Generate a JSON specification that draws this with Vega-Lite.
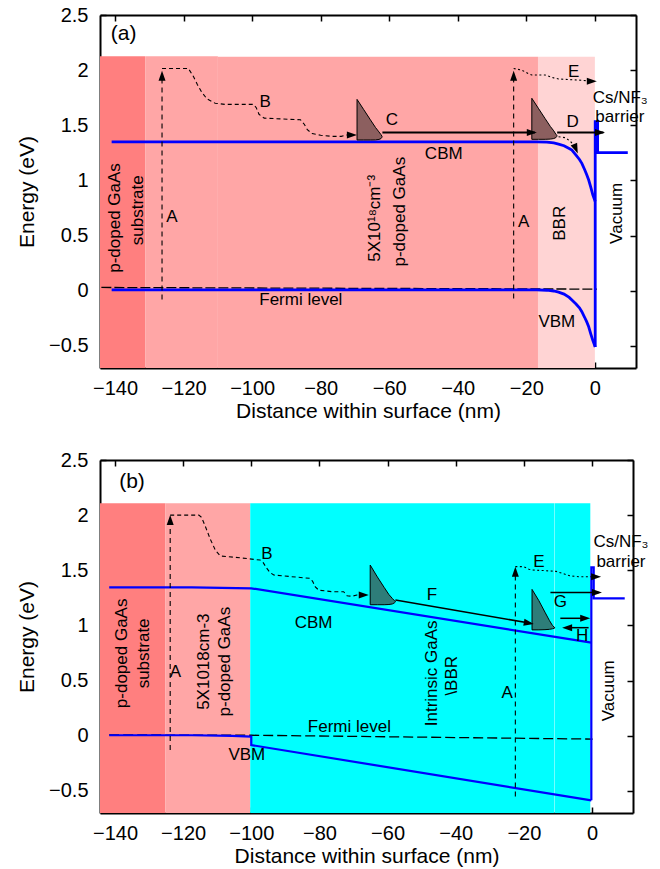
{
  "$schema": "https://vega.github.io/schema/vega-lite/v6.json",
  "padding": {"left": 16, "top": 5, "right": 5, "bottom": 5},
  "spacing": 92,
  "bounds": "flush",
  "resolve": {"scale": {"x": "independent", "y": "independent"}},
  "config": {
    "font": "Liberation Sans",
    "view": {"stroke": null},
    "axis": {
      "labelFont": "Liberation Sans", "titleFont": "Liberation Sans",
      "labelFontSize": 20, "titleFontSize": 21, "titleFontWeight": "normal",
      "labelColor": "black", "titleColor": "black", "domainColor": "black", "tickColor": "black",
      "domainWidth": 2, "tickWidth": 1.5, "tickSize": -6, "grid": false, "zindex": 1,
      "labelFlush": false, "labelOverlap": false
    }
  },
  "datasets": {
    "a_bg": [
      {"region": "substrate", "x": -144.4, "x2": -131.1, "y": -0.7, "y2": 2.127},
      {"region": "doped", "x": -131.0, "x2": -110, "y": -0.7, "y2": 2.127},
      {"region": "doped", "x": -110, "x2": -16.6, "y": -0.7, "y2": 2.122},
      {"region": "BBR", "x": -16.6, "x2": 0, "y": -0.7, "y2": 2.122}
    ],
    "a_bands": [
      {"band": "CBM", "i": 0, "x": -141, "y": 1.35},
      {"band": "CBM", "i": 1, "x": -17, "y": 1.35},
      {"band": "CBM", "i": 2, "x": -14, "y": 1.347},
      {"band": "CBM", "i": 3, "x": -12, "y": 1.34},
      {"band": "CBM", "i": 4, "x": -10.6, "y": 1.33},
      {"band": "CBM", "i": 5, "x": -9, "y": 1.315},
      {"band": "CBM", "i": 6, "x": -7.5, "y": 1.29},
      {"band": "CBM", "i": 7, "x": -6.7, "y": 1.276},
      {"band": "CBM", "i": 8, "x": -5.5, "y": 1.23},
      {"band": "CBM", "i": 9, "x": -4.5, "y": 1.19},
      {"band": "CBM", "i": 10, "x": -3.8, "y": 1.155},
      {"band": "CBM", "i": 11, "x": -3, "y": 1.1},
      {"band": "CBM", "i": 12, "x": -2.4, "y": 1.055},
      {"band": "CBM", "i": 13, "x": -1.8, "y": 1.004},
      {"band": "CBM", "i": 14, "x": -1.2, "y": 0.94},
      {"band": "CBM", "i": 15, "x": -0.6, "y": 0.87},
      {"band": "CBM", "i": 16, "x": 0.1, "y": 0.81},
      {"band": "VBM", "i": 0, "x": -141, "y": 0.008},
      {"band": "VBM", "i": 1, "x": -17, "y": 0.008},
      {"band": "VBM", "i": 2, "x": -14, "y": 0.005},
      {"band": "VBM", "i": 3, "x": -12, "y": -0.002},
      {"band": "VBM", "i": 4, "x": -10.6, "y": -0.012},
      {"band": "VBM", "i": 5, "x": -9, "y": -0.03},
      {"band": "VBM", "i": 6, "x": -7.5, "y": -0.06},
      {"band": "VBM", "i": 7, "x": -6.7, "y": -0.084},
      {"band": "VBM", "i": 8, "x": -5.5, "y": -0.12},
      {"band": "VBM", "i": 9, "x": -4.5, "y": -0.155},
      {"band": "VBM", "i": 10, "x": -3.8, "y": -0.19},
      {"band": "VBM", "i": 11, "x": -3, "y": -0.24},
      {"band": "VBM", "i": 12, "x": -2.4, "y": -0.28},
      {"band": "VBM", "i": 13, "x": -1.8, "y": -0.326},
      {"band": "VBM", "i": 14, "x": -1.2, "y": -0.39},
      {"band": "VBM", "i": 15, "x": -0.6, "y": -0.45},
      {"band": "VBM", "i": 16, "x": 0.1, "y": -0.51},
      {"band": "vac", "i": 0, "x": 0.1, "y": -0.51},
      {"band": "vac", "i": 1, "x": 0.1, "y": 1.533},
      {"band": "vac", "i": 2, "x": 0.8, "y": 1.533},
      {"band": "vac", "i": 3, "x": 0.8, "y": 1.252},
      {"band": "vac", "i": 4, "x": 9.6, "y": 1.252}
    ],
    "a_fermi": [{"x": -144, "y": 0.03}, {"x": 0.6, "y": 0.015}],
    "a_paths": [
      {"path": "A1", "kind": "excite", "i": 0, "x": -126.3, "y": -0.08},
      {"path": "A1", "kind": "excite", "i": 1, "x": -126.3, "y": 1.96},
      {"path": "A2", "kind": "excite", "i": 0, "x": -23.7, "y": -0.07},
      {"path": "A2", "kind": "excite", "i": 1, "x": -23.7, "y": 1.96},
      {"path": "B", "kind": "relax", "i": 0, "x": -126.3, "y": 2.015},
      {"path": "B", "kind": "relax", "i": 1, "x": -118.6, "y": 2.015},
      {"path": "B", "kind": "relax", "i": 2, "x": -117.1, "y": 1.94},
      {"path": "B", "kind": "relax", "i": 3, "x": -116, "y": 1.87},
      {"path": "B", "kind": "relax", "i": 4, "x": -114.7, "y": 1.8},
      {"path": "B", "kind": "relax", "i": 5, "x": -113.2, "y": 1.74},
      {"path": "B", "kind": "relax", "i": 6, "x": -110.8, "y": 1.7},
      {"path": "B", "kind": "relax", "i": 7, "x": -108, "y": 1.69},
      {"path": "B", "kind": "relax", "i": 8, "x": -99.6, "y": 1.69},
      {"path": "B", "kind": "relax", "i": 9, "x": -98.8, "y": 1.66},
      {"path": "B", "kind": "relax", "i": 10, "x": -98, "y": 1.6},
      {"path": "B", "kind": "relax", "i": 11, "x": -96.5, "y": 1.565},
      {"path": "B", "kind": "relax", "i": 12, "x": -85.9, "y": 1.55},
      {"path": "B", "kind": "relax", "i": 13, "x": -84.8, "y": 1.51},
      {"path": "B", "kind": "relax", "i": 14, "x": -83.9, "y": 1.46},
      {"path": "B", "kind": "relax", "i": 15, "x": -82.5, "y": 1.425},
      {"path": "B", "kind": "relax", "i": 16, "x": -80, "y": 1.41},
      {"path": "B", "kind": "relax", "i": 17, "x": -76.7, "y": 1.4},
      {"path": "B", "kind": "relax", "i": 18, "x": -74, "y": 1.4},
      {"path": "B", "kind": "relax", "i": 19, "x": -72.5, "y": 1.412},
      {"path": "B", "kind": "relax", "i": 20, "x": -70.5, "y": 1.412},
      {"path": "E", "kind": "escape", "i": 0, "x": -23.7, "y": 2.015},
      {"path": "E", "kind": "escape", "i": 1, "x": -21.3, "y": 2.0},
      {"path": "E", "kind": "escape", "i": 2, "x": -19.5, "y": 1.97},
      {"path": "E", "kind": "escape", "i": 3, "x": -18.4, "y": 1.956},
      {"path": "E", "kind": "escape", "i": 4, "x": -14.5, "y": 1.956},
      {"path": "E", "kind": "escape", "i": 5, "x": -12, "y": 1.93},
      {"path": "E", "kind": "escape", "i": 6, "x": -10.6, "y": 1.92},
      {"path": "E", "kind": "escape", "i": 7, "x": -4.8, "y": 1.91},
      {"path": "E", "kind": "escape", "i": 8, "x": -0.5, "y": 1.9},
      {"path": "Dc", "kind": "escape", "i": 0, "x": -10.6, "y": 1.397},
      {"path": "Dc", "kind": "escape", "i": 1, "x": -8.7, "y": 1.388},
      {"path": "Dc", "kind": "escape", "i": 2, "x": -7.2, "y": 1.357},
      {"path": "Dc", "kind": "escape", "i": 3, "x": -5.7, "y": 1.3}
    ],
    "a_fins": [
      {"fin": "C", "x": -69.4, "y": 1.367, "y2": 1.735},
      {"fin": "C", "x": -67.5, "y": 1.367, "y2": 1.645},
      {"fin": "C", "x": -65.5, "y": 1.367, "y2": 1.55},
      {"fin": "C", "x": -64, "y": 1.368, "y2": 1.48},
      {"fin": "C", "x": -63, "y": 1.372, "y2": 1.44},
      {"fin": "C", "x": -62.4, "y": 1.38, "y2": 1.415},
      {"fin": "C", "x": -62.1, "y": 1.393, "y2": 1.4},
      {"fin": "D", "x": -18.4, "y": 1.373, "y2": 1.745},
      {"fin": "D", "x": -16.5, "y": 1.373, "y2": 1.655},
      {"fin": "D", "x": -14.5, "y": 1.373, "y2": 1.56},
      {"fin": "D", "x": -13, "y": 1.375, "y2": 1.49},
      {"fin": "D", "x": -12, "y": 1.38, "y2": 1.45},
      {"fin": "D", "x": -11.4, "y": 1.388, "y2": 1.42},
      {"fin": "D", "x": -11.1, "y": 1.4, "y2": 1.41}
    ],
    "a_rules": [
      {"x": -62, "y": 1.435, "x2": -17.5, "y2": 1.435},
      {"x": -11, "y": 1.435, "x2": 2.5, "y2": 1.435}
    ],
    "a_heads": [
      {"dir": "up", "x": -126.3, "y": 1.95},
      {"dir": "up", "x": -23.7, "y": 1.95},
      {"dir": "right", "x": -70.9, "y": 1.412},
      {"dir": "right", "x": -0.9, "y": 1.9},
      {"dir": "right", "x": -18.4, "y": 1.435},
      {"dir": "right", "x": 1.5, "y": 1.435},
      {"dir": "downright", "x": -5.55, "y": 1.287}
    ],
    "a_text": [
      {"label": "A", "x": -123.4, "y": 0.671},
      {"label": "B", "x": -96.2, "y": 1.714},
      {"label": "C", "x": -59.2, "y": 1.548},
      {"label": "D", "x": -6.5, "y": 1.533},
      {"label": "E", "x": -6.2, "y": 1.986},
      {"label": "A", "x": -20.8, "y": 0.626},
      {"label": "CBM", "x": -44.1, "y": 1.24},
      {"label": "Fermi level", "x": -85.8, "y": -0.084},
      {"label": "VBM", "x": -11.1, "y": -0.28},
      {"label": "Cs/NF₃", "x": 7.4, "y": 1.745},
      {"label": "barrier", "x": 7.3, "y": 1.573}
    ],
    "a_vtext": [
      {"label": "p-doped GaAs", "x": -140, "y": 0.66},
      {"label": "substrate", "x": -133.2, "y": 0.73},
      {"label": "5X10¹⁸cm⁻³", "x": -64.1, "y": 0.657},
      {"label": "p-doped GaAs", "x": -56.8, "y": 0.717},
      {"label": "BBR", "x": -10.1, "y": 0.612},
      {"label": "Vacuum", "x": 6.4, "y": 0.702}
    ],
    "a_title": [{"label": "(a)", "x": -137.5, "y": 2.33}],
    "b_bg": [
      {"region": "substrate", "x": -144.4, "x2": -125.2, "y": -0.7, "y2": 2.107},
      {"region": "doped", "x": -125.2, "x2": -100.3, "y": -0.7, "y2": 2.107},
      {"region": "intrinsic", "x": -100.3, "x2": -11.05, "y": -0.7, "y2": 2.107},
      {"region": "intrinsic", "x": -10.95, "x2": -0.5, "y": -0.7, "y2": 2.107}
    ],
    "b_bands": [
      {"band": "CBM", "i": 0, "x": -141.7, "y": 1.346},
      {"band": "CBM", "i": 1, "x": -117.4, "y": 1.346},
      {"band": "CBM", "i": 2, "x": -100, "y": 1.337},
      {"band": "CBM", "i": 3, "x": -0.2, "y": 0.844},
      {"band": "VBM", "i": 0, "x": -141.7, "y": 0.005},
      {"band": "VBM", "i": 1, "x": -117.4, "y": 0.005},
      {"band": "VBM", "i": 2, "x": -105.6, "y": 0.0},
      {"band": "VBM", "i": 3, "x": -100, "y": -0.008},
      {"band": "VBM", "i": 4, "x": -100, "y": -0.084},
      {"band": "VBM", "i": 5, "x": -0.2, "y": -0.585},
      {"band": "vac", "i": 0, "x": -0.2, "y": -0.585},
      {"band": "vac", "i": 1, "x": -0.2, "y": 1.527},
      {"band": "vac", "i": 2, "x": 0.5, "y": 1.527},
      {"band": "vac", "i": 3, "x": 0.5, "y": 1.246},
      {"band": "vac", "i": 4, "x": 9.6, "y": 1.246}
    ],
    "b_fermi": [{"x": -141.7, "y": 0.008}, {"x": -100, "y": 0.005}, {"x": 0.2, "y": -0.03}],
    "b_paths": [
      {"path": "A1", "kind": "excite", "i": 0, "x": -123.8, "y": -0.13},
      {"path": "A1", "kind": "excite", "i": 1, "x": -123.8, "y": 1.96},
      {"path": "A2", "kind": "excite", "i": 0, "x": -22.5, "y": -0.55},
      {"path": "A2", "kind": "excite", "i": 1, "x": -22.5, "y": 1.49},
      {"path": "B", "kind": "relax", "i": 0, "x": -123.8, "y": 2.0},
      {"path": "B", "kind": "relax", "i": 1, "x": -115.4, "y": 2.0},
      {"path": "B", "kind": "relax", "i": 2, "x": -114.6, "y": 1.98},
      {"path": "B", "kind": "relax", "i": 3, "x": -113.5, "y": 1.9},
      {"path": "B", "kind": "relax", "i": 4, "x": -112, "y": 1.78},
      {"path": "B", "kind": "relax", "i": 5, "x": -110.5, "y": 1.68},
      {"path": "B", "kind": "relax", "i": 6, "x": -109.1, "y": 1.63},
      {"path": "B", "kind": "relax", "i": 7, "x": -104.7, "y": 1.618},
      {"path": "B", "kind": "relax", "i": 8, "x": -97.4, "y": 1.593},
      {"path": "B", "kind": "relax", "i": 9, "x": -96.5, "y": 1.57},
      {"path": "B", "kind": "relax", "i": 10, "x": -95.5, "y": 1.52},
      {"path": "B", "kind": "relax", "i": 11, "x": -94.5, "y": 1.48},
      {"path": "B", "kind": "relax", "i": 12, "x": -93.4, "y": 1.457},
      {"path": "B", "kind": "relax", "i": 13, "x": -82.7, "y": 1.427},
      {"path": "B", "kind": "relax", "i": 14, "x": -82, "y": 1.4},
      {"path": "B", "kind": "relax", "i": 15, "x": -81.2, "y": 1.35},
      {"path": "B", "kind": "relax", "i": 16, "x": -80.2, "y": 1.32},
      {"path": "B", "kind": "relax", "i": 17, "x": -76.3, "y": 1.306},
      {"path": "B", "kind": "relax", "i": 18, "x": -72.9, "y": 1.306},
      {"path": "B", "kind": "relax", "i": 19, "x": -71.9, "y": 1.27},
      {"path": "B", "kind": "relax", "i": 20, "x": -70.5, "y": 1.265},
      {"path": "B", "kind": "relax", "i": 21, "x": -69, "y": 1.276},
      {"path": "B", "kind": "relax", "i": 22, "x": -67, "y": 1.276},
      {"path": "E", "kind": "escape", "i": 0, "x": -22.5, "y": 1.533},
      {"path": "E", "kind": "escape", "i": 1, "x": -20, "y": 1.533},
      {"path": "E", "kind": "escape", "i": 2, "x": -18.5, "y": 1.51},
      {"path": "E", "kind": "escape", "i": 3, "x": -17.6, "y": 1.503},
      {"path": "E", "kind": "escape", "i": 4, "x": -13.7, "y": 1.497},
      {"path": "E", "kind": "escape", "i": 5, "x": -10.5, "y": 1.49},
      {"path": "E", "kind": "escape", "i": 6, "x": -8.8, "y": 1.473},
      {"path": "E", "kind": "escape", "i": 7, "x": -6.5, "y": 1.45},
      {"path": "E", "kind": "escape", "i": 8, "x": -3.9, "y": 1.442},
      {"path": "E", "kind": "escape", "i": 9, "x": 1.2, "y": 1.442}
    ],
    "b_fins": [
      {"fin": "F1", "x": -65.1, "y": 1.188, "y2": 1.548},
      {"fin": "F1", "x": -63, "y": 1.188, "y2": 1.44},
      {"fin": "F1", "x": -61, "y": 1.188, "y2": 1.345},
      {"fin": "F1", "x": -59.6, "y": 1.19, "y2": 1.28},
      {"fin": "F1", "x": -58.6, "y": 1.195, "y2": 1.245},
      {"fin": "F1", "x": -58, "y": 1.205, "y2": 1.225},
      {"fin": "F1", "x": -57.7, "y": 1.213, "y2": 1.218},
      {"fin": "F2", "x": -17.6, "y": 0.96, "y2": 1.327},
      {"fin": "F2", "x": -15.6, "y": 0.96, "y2": 1.225},
      {"fin": "F2", "x": -13.8, "y": 0.962, "y2": 1.12},
      {"fin": "F2", "x": -12.5, "y": 0.965, "y2": 1.045},
      {"fin": "F2", "x": -11.6, "y": 0.97, "y2": 1.0},
      {"fin": "F2", "x": -11.1, "y": 0.975, "y2": 0.985},
      {"fin": "F2", "x": -10.9, "y": 0.978, "y2": 0.98}
    ],
    "b_rules": [
      {"x": -57.7, "y": 1.23, "x2": -18, "y2": 1.02},
      {"x": -12.2, "y": 1.3, "x2": 2, "y2": 1.3},
      {"x": -9.3, "y": 1.065, "x2": -1.5, "y2": 1.065},
      {"x": -1, "y": 0.98, "x2": -7.5, "y2": 0.98}
    ],
    "b_heads": [
      {"dir": "up", "x": -123.8, "y": 1.955},
      {"dir": "up", "x": -22.5, "y": 1.488},
      {"dir": "right", "x": -67, "y": 1.276},
      {"dir": "right", "x": 1.2, "y": 1.442},
      {"dir": "right", "x": 1.45, "y": 1.3},
      {"dir": "right", "x": -2.0, "y": 1.065},
      {"dir": "left", "x": -7.3, "y": 0.98},
      {"dir": "F", "x": -18.55, "y": 1.021}
    ],
    "b_text": [
      {"label": "A", "x": -122.3, "y": 0.581},
      {"label": "B", "x": -95.4, "y": 1.65},
      {"label": "CBM", "x": -81.7, "y": 1.02},
      {"label": "VBM", "x": -101.3, "y": -0.17},
      {"label": "Fermi level", "x": -71.2, "y": 0.08},
      {"label": "F", "x": -47, "y": 1.276},
      {"label": "E", "x": -15.6, "y": 1.578},
      {"label": "G", "x": -9.3, "y": 1.215},
      {"label": "H", "x": -2.9, "y": 0.904},
      {"label": "A", "x": -24.9, "y": 0.385},
      {"label": "Cs/NF₃", "x": 8.5, "y": 1.76},
      {"label": "barrier", "x": 8.5, "y": 1.578}
    ],
    "b_vtext": [
      {"label": "p-doped GaAs", "x": -137.9, "y": 0.747},
      {"label": "substrate", "x": -131.6, "y": 0.747},
      {"label": "5X1018cm-3", "x": -114, "y": 0.672},
      {"label": "p-doped GaAs", "x": -107.6, "y": 0.672},
      {"label": "Intrinsic GaAs", "x": -47, "y": 0.566},
      {"label": "\\BBR", "x": -41.1, "y": 0.544},
      {"label": "Vacuum", "x": 4.9, "y": 0.408}
    ],
    "b_title": [{"label": "(b)", "x": -135, "y": 2.3}]
  },
  "vconcat": [
    {
      "width": 536, "height": 353,
      "encoding": {
        "x": {"field": "x", "type": "quantitative", "scale": {"domain": [-144.4, 12], "nice": false, "zero": false}, "axis": null},
        "y": {"field": "y", "type": "quantitative", "scale": {"domain": [-0.7, 2.5], "nice": false, "zero": false}, "axis": null}
      },
      "layer": [
        {
          "data": {"name": "a_bg"},
          "mark": {"type": "rect"},
          "encoding": {
            "x": {"field": "x", "type": "quantitative", "scale": {"domain": [-144.4, 12], "nice": false, "zero": false},
                  "axis": {"orient": "top", "labels": false, "title": null, "values": [-140, -120, -100, -80, -60, -40, -20, 0]}},
            "x2": {"field": "x2"},
            "y": {"field": "y", "type": "quantitative", "scale": {"domain": [-0.7, 2.5], "nice": false, "zero": false},
                  "axis": {"orient": "right", "labels": false, "title": null, "values": [-0.5, 0, 0.5, 1, 1.5, 2, 2.5]}},
            "y2": {"field": "y2"},
            "color": {"field": "region", "type": "nominal", "legend": null,
                      "scale": {"domain": ["substrate", "doped", "BBR", "intrinsic"], "range": ["#FF7F7F", "#FFA6A6", "#FFD4D4", "#00FFFF"]}}
          }
        },
        {
          "data": {"name": "a_fermi"},
          "mark": {"type": "line", "color": "black", "strokeWidth": 1.3, "strokeDash": [10, 3]},
          "encoding": {}
        },
        {
          "data": {"name": "a_bands"},
          "mark": {"type": "line", "color": "#0000FF", "strokeWidth": 2.8},
          "encoding": {
            "x": {"field": "x", "type": "quantitative", "scale": {"domain": [-144.4, 12], "nice": false, "zero": false},
                  "axis": {"orient": "bottom", "title": "Distance within surface (nm)", "values": [-140, -120, -100, -80, -60, -40, -20, 0], "format": "d", "labelPadding": 16.5, "titlePadding": 2}},
            "y": {"field": "y", "type": "quantitative", "scale": {"domain": [-0.7, 2.5], "nice": false, "zero": false},
                  "axis": {"orient": "left", "title": "Energy (eV)", "values": [-0.5, 0, 0.5, 1, 1.5, 2, 2.5], "format": "~g", "labelPadding": 18, "titlePadding": 11}},
            "detail": {"field": "band"},
            "order": {"field": "i", "type": "quantitative"}
          }
        },
        {
          "data": {"name": "a_paths"},
          "mark": {"type": "line", "color": "black", "strokeWidth": 1.1},
          "encoding": {
            "detail": {"field": "path"},
            "order": {"field": "i", "type": "quantitative"},
            "strokeDash": {"field": "kind", "type": "nominal", "legend": null,
                           "scale": {"domain": ["excite", "relax", "escape"], "range": [[5, 4], [4, 3], [2, 2.5]]}}
          }
        },
        {
          "data": {"name": "a_fins"},
          "mark": {"type": "area", "fill": "#8c5f5f", "stroke": "black", "strokeWidth": 1},
          "encoding": {"y2": {"field": "y2"}, "detail": {"field": "fin"}}
        },
        {
          "data": {"name": "a_rules"},
          "mark": {"type": "rule", "color": "black", "strokeWidth": 1.8},
          "encoding": {"x2": {"field": "x2"}, "y2": {"field": "y2"}}
        },
        {
          "data": {"name": "a_heads"},
          "transform": [{"filter": "datum.dir === 'up'"}],
          "mark": {"type": "point", "shape": "M0,-1L0.7,1L-0.7,1Z", "size": 100, "filled": true, "color": "black", "opacity": 1, "angle": 0},
          "encoding": {}
        },
        {
          "data": {"name": "a_heads"},
          "transform": [{"filter": "datum.dir === 'right'"}],
          "mark": {"type": "point", "shape": "M0,-1L0.7,1L-0.7,1Z", "size": 100, "filled": true, "color": "black", "opacity": 1, "angle": 90},
          "encoding": {}
        },
        {
          "data": {"name": "a_heads"},
          "transform": [{"filter": "datum.dir === 'downright'"}],
          "mark": {"type": "point", "shape": "M0,-1L0.7,1L-0.7,1Z", "size": 100, "filled": true, "color": "black", "opacity": 1, "angle": 157},
          "encoding": {}
        },
        {
          "data": {"name": "a_text"},
          "mark": {"type": "text", "fontSize": 17, "font": "Liberation Sans", "color": "black"},
          "encoding": {"text": {"field": "label"}}
        },
        {
          "data": {"name": "a_vtext"},
          "mark": {"type": "text", "fontSize": 17, "font": "Liberation Sans", "color": "black", "angle": 270},
          "encoding": {"text": {"field": "label"}}
        },
        {
          "data": {"name": "a_title"},
          "mark": {"type": "text", "fontSize": 21, "font": "Liberation Sans", "color": "black"},
          "encoding": {"text": {"field": "label"}}
        }
      ]
    },
    {
      "width": 533, "height": 353,
      "encoding": {
        "x": {"field": "x", "type": "quantitative", "scale": {"domain": [-144.4, 12.03], "nice": false, "zero": false}, "axis": null},
        "y": {"field": "y", "type": "quantitative", "scale": {"domain": [-0.7, 2.5], "nice": false, "zero": false}, "axis": null}
      },
      "layer": [
        {
          "data": {"name": "b_bg"},
          "mark": {"type": "rect"},
          "encoding": {
            "x": {"field": "x", "type": "quantitative", "scale": {"domain": [-144.4, 12.03], "nice": false, "zero": false},
                  "axis": {"orient": "top", "labels": false, "title": null, "values": [-140, -120, -100, -80, -60, -40, -20, 0]}},
            "x2": {"field": "x2"},
            "y": {"field": "y", "type": "quantitative", "scale": {"domain": [-0.7, 2.5], "nice": false, "zero": false},
                  "axis": {"orient": "right", "labels": false, "title": null, "values": [-0.5, 0, 0.5, 1, 1.5, 2, 2.5]}},
            "y2": {"field": "y2"},
            "color": {"field": "region", "type": "nominal", "legend": null,
                      "scale": {"domain": ["substrate", "doped", "BBR", "intrinsic"], "range": ["#FF7F7F", "#FFA6A6", "#FFD4D4", "#00FFFF"]}}
          }
        },
        {
          "data": {"name": "b_fermi"},
          "mark": {"type": "line", "color": "black", "strokeWidth": 1.3, "strokeDash": [10, 4]},
          "encoding": {}
        },
        {
          "data": {"name": "b_bands"},
          "mark": {"type": "line", "color": "#0000FF", "strokeWidth": 2.2},
          "encoding": {
            "x": {"field": "x", "type": "quantitative", "scale": {"domain": [-144.4, 12.03], "nice": false, "zero": false},
                  "axis": {"orient": "bottom", "title": "Distance within surface (nm)", "values": [-140, -120, -100, -80, -60, -40, -20, 0], "format": "d", "labelPadding": 16.5, "titlePadding": 2}},
            "y": {"field": "y", "type": "quantitative", "scale": {"domain": [-0.7, 2.5], "nice": false, "zero": false},
                  "axis": {"orient": "left", "title": "Energy (eV)", "values": [-0.5, 0, 0.5, 1, 1.5, 2, 2.5], "format": "~g", "labelPadding": 18, "titlePadding": 11}},
            "detail": {"field": "band"},
            "order": {"field": "i", "type": "quantitative"}
          }
        },
        {
          "data": {"name": "b_paths"},
          "mark": {"type": "line", "color": "black", "strokeWidth": 1.1},
          "encoding": {
            "detail": {"field": "path"},
            "order": {"field": "i", "type": "quantitative"},
            "strokeDash": {"field": "kind", "type": "nominal", "legend": null,
                           "scale": {"domain": ["excite", "relax", "escape"], "range": [[5, 4], [4, 3], [2, 2.5]]}}
          }
        },
        {
          "data": {"name": "b_fins"},
          "mark": {"type": "area", "fill": "#2e7d79", "stroke": "black", "strokeWidth": 1},
          "encoding": {"y2": {"field": "y2"}, "detail": {"field": "fin"}}
        },
        {
          "data": {"name": "b_rules"},
          "mark": {"type": "rule", "color": "black", "strokeWidth": 1.5},
          "encoding": {"x2": {"field": "x2"}, "y2": {"field": "y2"}}
        },
        {
          "data": {"name": "b_heads"},
          "transform": [{"filter": "datum.dir === 'up'"}],
          "mark": {"type": "point", "shape": "M0,-1L0.7,1L-0.7,1Z", "size": 100, "filled": true, "color": "black", "opacity": 1, "angle": 0},
          "encoding": {}
        },
        {
          "data": {"name": "b_heads"},
          "transform": [{"filter": "datum.dir === 'right'"}],
          "mark": {"type": "point", "shape": "M0,-1L0.7,1L-0.7,1Z", "size": 100, "filled": true, "color": "black", "opacity": 1, "angle": 90},
          "encoding": {}
        },
        {
          "data": {"name": "b_heads"},
          "transform": [{"filter": "datum.dir === 'left'"}],
          "mark": {"type": "point", "shape": "M0,-1L0.7,1L-0.7,1Z", "size": 100, "filled": true, "color": "black", "opacity": 1, "angle": 270},
          "encoding": {}
        },
        {
          "data": {"name": "b_heads"},
          "transform": [{"filter": "datum.dir === 'F'"}],
          "mark": {"type": "point", "shape": "M0,-1L0.7,1L-0.7,1Z", "size": 100, "filled": true, "color": "black", "opacity": 1, "angle": 100},
          "encoding": {}
        },
        {
          "data": {"name": "b_text"},
          "mark": {"type": "text", "fontSize": 17, "font": "Liberation Sans", "color": "black"},
          "encoding": {"text": {"field": "label"}}
        },
        {
          "data": {"name": "b_vtext"},
          "mark": {"type": "text", "fontSize": 17, "font": "Liberation Sans", "color": "black", "angle": 270},
          "encoding": {"text": {"field": "label"}}
        },
        {
          "data": {"name": "b_title"},
          "mark": {"type": "text", "fontSize": 21, "font": "Liberation Sans", "color": "black"},
          "encoding": {"text": {"field": "label"}}
        }
      ]
    }
  ]
}
